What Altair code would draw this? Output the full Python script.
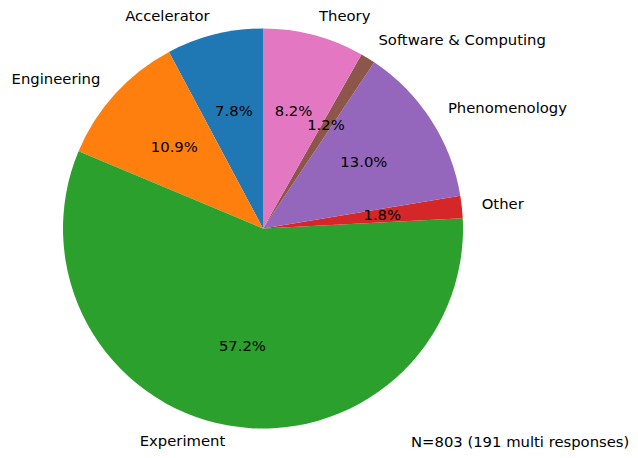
import altair as alt
import pandas as pd

categories = ["Accelerator", "Engineering", "Experiment", "Other",
              "Phenomenology", "Software & Computing", "Theory"]
percents = [7.8, 10.9, 57.2, 1.8, 13.0, 1.2, 8.2]
colors = ["#1f77b4", "#ff7f0e", "#2ca02c", "#d62728",
          "#9467bd", "#8c564b", "#e377c2"]
note = "N=803 (191 multi responses)"

n = len(categories)
df = pd.DataFrame({
    "category": categories,
    "value": percents,
    # matplotlib draws counter-clockwise from the top; Vega clockwise -> reverse
    "ord": [n - 1 - i for i in range(n)],
})

CX, CY, R = 255, 220.5, 200
FONT = "DejaVu Sans"
FS = 14.8

base = alt.Chart(df).transform_joinaggregate(
    total="sum(value)"
).transform_window(
    cum="sum(value)", sort=[alt.SortField("ord")], frame=[None, 0]
).transform_calculate(
    mid="(datum.cum - datum.value/2)/datum.total",
    pct="format(datum.value, '.1f') + '%'",
)

theta = alt.Theta("value:Q", stack=True)
order = alt.Order("ord:Q", sort="ascending")

arcs = base.mark_arc(radius=R).encode(
    theta=theta,
    order=order,
    color=alt.Color("category:N", scale=alt.Scale(domain=categories, range=colors), legend=None),
    x=alt.value(CX), y=alt.value(CY),
)

labels = base.mark_text(
    radius=R * 1.1, font=FONT, fontSize=FS, color="black", baseline="middle",
    align=alt.expr("datum.mid < 0.5 ? 'left' : 'right'"),
    # keep the top and bottom labels inside the page edge
    dy=alt.expr("datum.mid > 0.45 && datum.mid < 0.55 ? -3 : ((datum.mid < 0.05 || datum.mid > 0.95) ? 1.5 : 0)"),
).encode(
    theta=theta, order=order, text="category:N",
    x=alt.value(CX), y=alt.value(CY),
)

pcts = base.mark_text(
    radius=R * 0.6, font=FONT, fontSize=FS, color="black", baseline="middle", align="center",
).encode(
    theta=theta, order=order, text="pct:N",
    x=alt.value(CX), y=alt.value(CY),
)

note_layer = alt.Chart(pd.DataFrame({"t": [note]})).mark_text(
    font=FONT, fontSize=FS, color="black", align="left", baseline="middle",
).encode(text="t:N", x=alt.value(403), y=alt.value(435))

chart = alt.layer(arcs, labels, pcts, note_layer).properties(
    width=622, height=442, padding=0,
    autosize=alt.AutoSizeParams(type="fit", contains="padding"),
).configure_view(stroke=None)

chart.save("out.html", embed_options={"renderer": "svg", "actions": False})
